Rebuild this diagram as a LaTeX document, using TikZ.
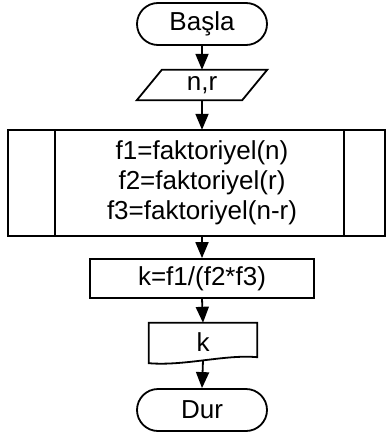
\documentclass[tikz,border=0pt]{standalone}
\usepackage{fontspec}
\setmainfont{Liberation Sans}
\usetikzlibrary{arrows.meta}
\begin{document}
\begin{tikzpicture}[x=1pt,y=-1pt,
  every node/.style={font=\fontsize{26}{30}\selectfont, inner sep=0pt, align=center},
  term/.style={draw, line width=1.8pt, rounded corners=21pt, minimum width=130pt, minimum height=42pt},
  plain/.style={draw, line width=1.8pt},
  conn/.style={line width=1.8pt, -{Triangle[length=16pt,width=13pt]}}]
\useasboundingbox (0,0) rectangle (387,441);
% start
\node[term] (start) at (202,24) {Başla};
% input
\node[minimum width=105pt, minimum height=30pt] (in) at (202,85) {n,r};
\draw[plain] ([xshift=12.5pt]in.north west) -- ([xshift=12.5pt]in.north east)
  -- ([xshift=-12.5pt]in.south east) -- ([xshift=-12.5pt]in.south west) -- cycle;
% predefined process
\node[minimum height=106pt] (proc) at (202,183) {f1=faktoriyel(n)\\f2=faktoriyel(r)\\f3=faktoriyel(n-r)};
\draw[plain] (8,130) rectangle (385,236);
\draw[plain] (55,130) -- (55,236);
\draw[plain] (344,130) -- (344,236);
% calculation
\node[plain, minimum width=224pt, minimum height=39pt] (calc) at (202,278.5) {k=f1/(f2*f3)};
% display / output
\node[minimum width=108pt, minimum height=38pt] (out) at (203,342) {k};
\draw[plain] ([yshift=-2pt]out.south west) -- (out.north west) -- (out.north east)
  -- ([yshift=4pt]out.south east)
  .. controls ([xshift=-32pt,yshift=7pt]out.south east) and ([xshift=36pt,yshift=-5pt]out.south west) ..
  ([yshift=-2pt]out.south west) -- cycle;
% end
\node[term] (stop) at (202,410) {Dur};
% connectors
\draw[conn] (start.south) -- (in.north);
\draw[conn] (in.south) -- (proc.north);
\draw[conn] (proc.south) -- (calc.north);
\draw[conn] (calc.south) -- (out.north);
\draw[conn] ([yshift=1pt]out.south) -- (stop.north);
\end{tikzpicture}
\end{document}
